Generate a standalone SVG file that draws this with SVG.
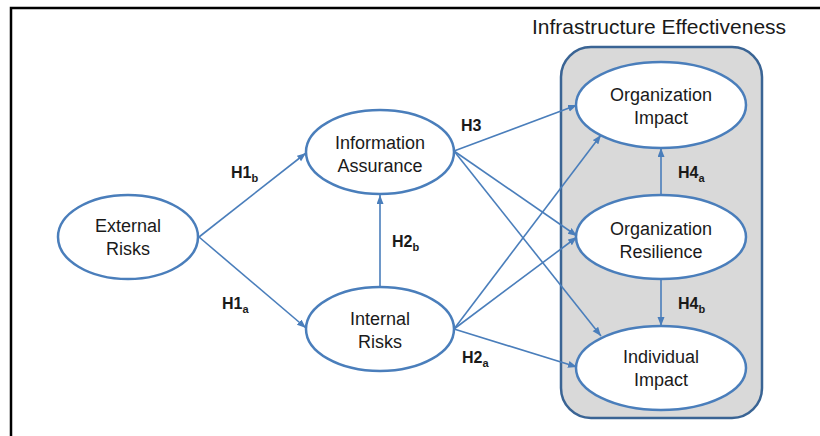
<svg xmlns="http://www.w3.org/2000/svg" width="820" height="436" viewBox="0 0 820 436">
<defs>
<style>
.node{fill:#ffffff;stroke:#4a7ebb;stroke-width:2.5}
.t{font-family:"Liberation Sans",Arial,sans-serif;font-size:18px;fill:#1a1a1a;text-anchor:middle}
.lbl{font-family:"Liberation Sans",Arial,sans-serif;font-size:16px;font-weight:bold;fill:#1a1a1a}
.sub{font-size:11px}
.c{stroke:#4a7ebb;stroke-width:1.6;fill:none;marker-end:url(#ah)}
</style>
<marker id="ah" markerUnits="userSpaceOnUse" markerWidth="10" markerHeight="8" refX="9" refY="3.5" orient="auto">
<path d="M0,0 L9,3.5 L0,7 z" fill="#4a7ebb"/>
</marker>
</defs>
<rect width="820" height="436" fill="#ffffff"/>
<path d="M11,436 L11,8 L820,8" fill="none" stroke="#000000" stroke-width="2.5"/>
<g id="infrastructure-effectiveness">
<rect x="561" y="47" width="201" height="371" rx="30" ry="30" fill="#d9d9d9" stroke="#3a6494" stroke-width="2.5"/>
<text x="532" y="34" font-family="'Liberation Sans',Arial,sans-serif" font-size="21" fill="#1a1a1a">Infrastructure Effectiveness</text>
</g>
<g id="connectors">
<line class="c" x1="199" y1="237" x2="306" y2="153"/>
<line class="c" x1="199" y1="237" x2="306" y2="328"/>
<line class="c" x1="380" y1="287" x2="380" y2="195"/>
<line class="c" x1="454" y1="151" x2="577" y2="105"/>
<line class="c" x1="454" y1="151" x2="577" y2="236"/>
<line class="c" x1="454" y1="151" x2="601" y2="336"/>
<line class="c" x1="454" y1="329" x2="601" y2="135"/>
<line class="c" x1="454" y1="329" x2="577" y2="237"/>
<line class="c" x1="454" y1="329" x2="577" y2="367"/>
<line class="c" x1="661" y1="195" x2="661" y2="148"/>
<line class="c" x1="661" y1="279" x2="661" y2="326"/>
</g>
<g id="labels">
<text class="lbl" x="231" y="178">H1<tspan class="sub" dy="4">b</tspan></text>
<text class="lbl" x="222" y="309">H1<tspan class="sub" dy="4">a</tspan></text>
<text class="lbl" x="392" y="247">H2<tspan class="sub" dy="4">b</tspan></text>
<text class="lbl" x="461" y="131">H3</text>
<text class="lbl" x="462" y="363">H2<tspan class="sub" dy="4">a</tspan></text>
<text class="lbl" x="678" y="178">H4<tspan class="sub" dy="4">a</tspan></text>
<text class="lbl" x="678" y="309">H4<tspan class="sub" dy="4">b</tspan></text>
</g>
<g id="external-risks">
<ellipse class="node" cx="128" cy="237" rx="70" ry="42"/>
<text class="t" x="128" y="232">External</text>
<text class="t" x="128" y="255">Risks</text>
</g>
<g id="information-assurance">
<ellipse class="node" cx="380" cy="152" rx="74" ry="42"/>
<text class="t" x="380" y="149">Information</text>
<text class="t" x="380" y="172">Assurance</text>
</g>
<g id="internal-risks">
<ellipse class="node" cx="380" cy="329" rx="74" ry="42"/>
<text class="t" x="380" y="325">Internal</text>
<text class="t" x="380" y="348">Risks</text>
</g>
<g id="organization-impact">
<ellipse class="node" cx="661" cy="105" rx="85" ry="43"/>
<text class="t" x="661" y="101">Organization</text>
<text class="t" x="661" y="124">Impact</text>
</g>
<g id="organization-resilience">
<ellipse class="node" cx="661" cy="237" rx="85" ry="42"/>
<text class="t" x="661" y="235">Organization</text>
<text class="t" x="661" y="258">Resilience</text>
</g>
<g id="individual-impact">
<ellipse class="node" cx="661" cy="368" rx="85" ry="42"/>
<text class="t" x="661" y="363">Individual</text>
<text class="t" x="661" y="386">Impact</text>
</g>
</svg>
